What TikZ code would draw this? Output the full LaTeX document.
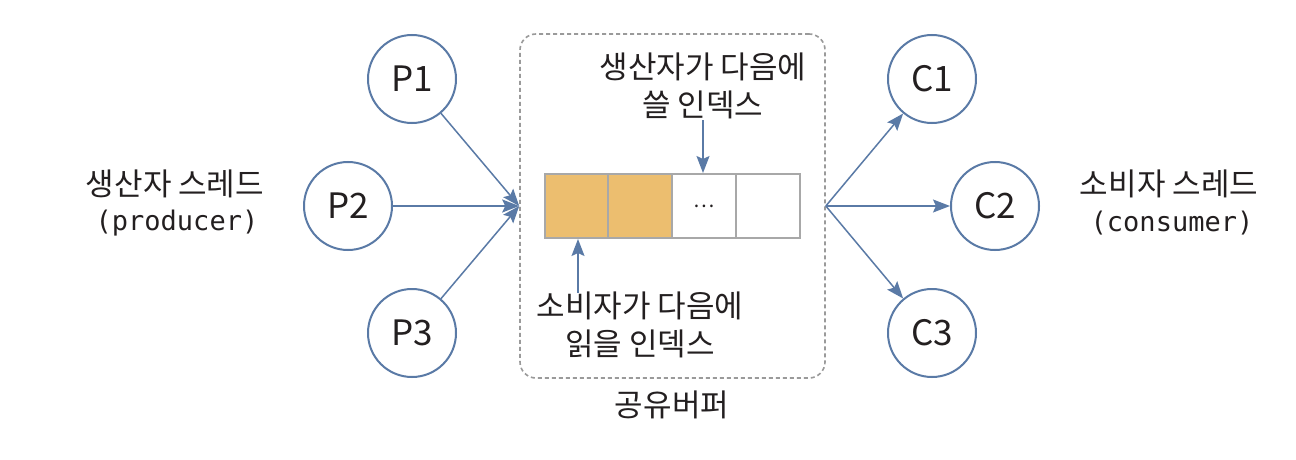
\documentclass[tikz,border=0pt]{standalone}
\usepackage{fontspec}
\setmainfont{Noto Sans CJK KR}
\newfontfamily\monofont{DejaVu Sans Mono}
\usetikzlibrary{arrows.meta}
\definecolor{edgeblue}{HTML}{5A7AA6}
\definecolor{txt}{HTML}{231F20}
\definecolor{bufor}{HTML}{ECBE6F}
\definecolor{cellgray}{HTML}{A8A8A8}
\definecolor{dashgray}{HTML}{9A9A9A}
\tikzset{
  thread/.style={circle, draw=edgeblue, line width=2pt, minimum size=88pt, inner sep=0pt,
    text=txt, font=\fontsize{35}{40}\selectfont},
  arr/.style={draw=edgeblue, line width=1.5pt, -{Stealth[length=17pt,width=13pt,inset=3pt]}},
  cell/.style={draw=cellgray, line width=2pt, minimum size=64pt, inner sep=0pt},
  sharebox/.style={draw=dashgray, line width=1.6pt, dash pattern=on 4pt off 3pt, rounded corners=16pt,
    minimum width=305pt, minimum height=344pt, inner sep=0pt},
  lbl/.style={text=txt, font=\fontsize{31}{38.5}\selectfont, align=center, inner sep=0pt},
  mono/.style={text=txt, font=\monofont\fontsize{27}{30}\selectfont, inner sep=0pt}
}
\begin{document}
\begin{tikzpicture}[x=1pt,y=-1pt]
\useasboundingbox (0,0) rectangle (1296,460);
\fill[white] (0,0) rectangle (1296,460);

% shared buffer region
\node[sharebox] (shared) at (672.5,206) {};
\node[lbl] (sharedlbl) at (672,405) {공유버퍼};

% buffer cells
\node[cell, fill=bufor] (b1) at (577,206) {};
\node[cell, fill=bufor] (b2) at (640,206) {};
\node[cell, fill=white, font=\fontsize{20}{24}\selectfont, text=txt] (b3) at (704,206) {…};
\node[cell, fill=white] (b4) at (767.5,206) {};

% index labels
\node[lbl] (wlbl) at (703,86) {생산자가 다음에\\쓸 인덱스};
\node[lbl] (rlbl) at (640,325) {소비자가 다음에\\읽을 인덱스};
\coordinate (wtop) at (703,120);
\coordinate (rbot) at (578,293);
\draw[arr] (wtop) -- (wtop |- b3.north);
\draw[arr] (rbot) -- (rbot |- b1.south);

% producers
\node[thread] (p1) at (412,79) {P1};
\node[thread] (p2) at (348,206) {P2};
\node[thread] (p3) at (412,333) {P3};
\draw[arr] (p1) -- (shared.west);
\draw[arr] (p2) -- (shared.west);
\draw[arr] (p3) -- (shared.west);

% consumers
\node[thread] (c1) at (932,79) {C1};
\node[thread] (c2) at (995,206) {C2};
\node[thread] (c3) at (932,333) {C3};
\draw[arr] (shared.east) -- (c1);
\draw[arr] (shared.east) -- (c2);
\draw[arr] (shared.east) -- (c3);

% side labels
\node[lbl] (plbl) at (175,184) {생산자 스레드};
\node[mono] (pen) at (177,223) {(producer)};
\node[lbl] (clbl) at (1169,184) {소비자 스레드};
\node[mono] (cen) at (1172,223) {(consumer)};
\end{tikzpicture}
\end{document}
